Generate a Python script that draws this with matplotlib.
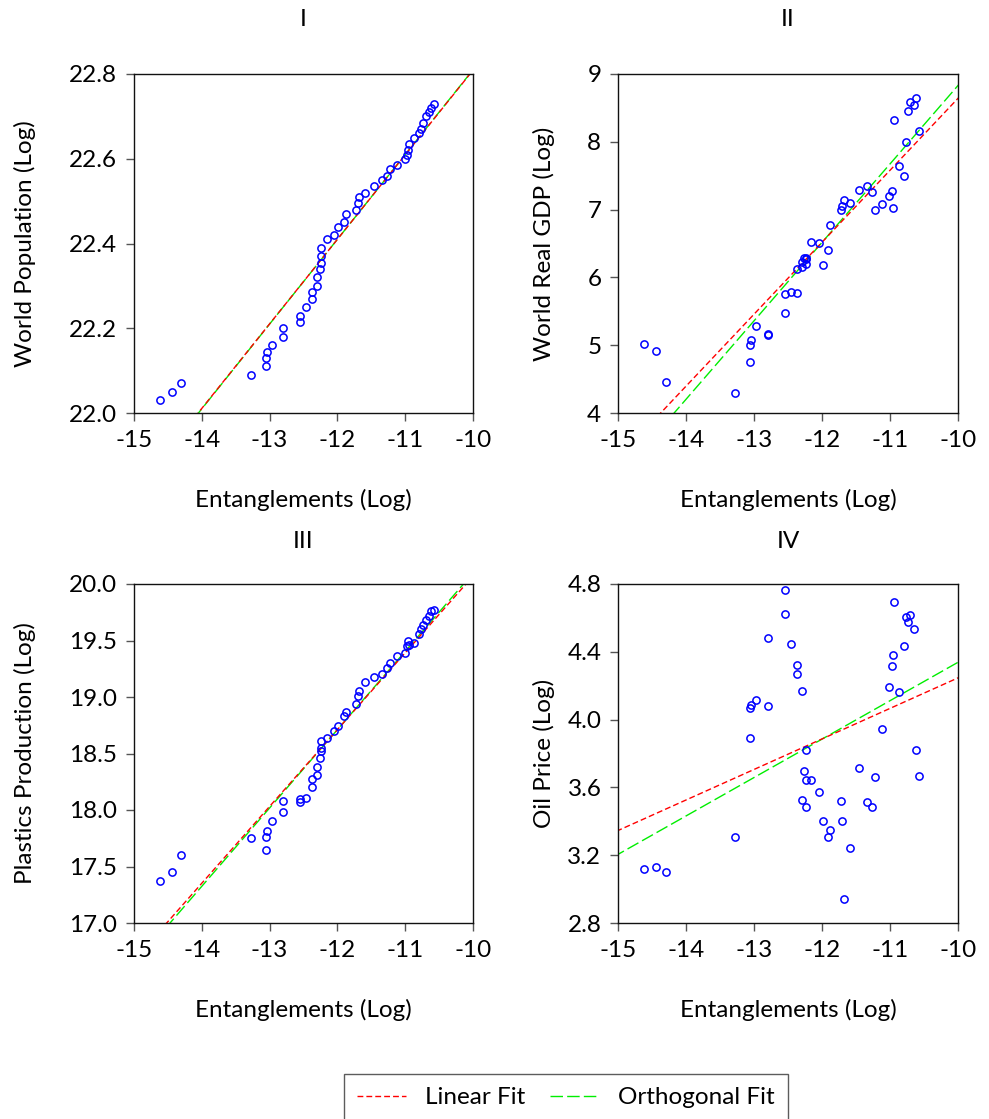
import numpy as np
import matplotlib
matplotlib.use("Agg")
import matplotlib.pyplot as plt
from matplotlib.lines import Line2D

plt.rcParams['font.family'] = ['Lato', 'DejaVu Sans']

# Shared x values: Entanglements (Log), in time order
entanglements = [-14.62, -14.44, -14.30, -13.28, -13.06, -13.06, -13.04, -12.97,
                 -12.80, -12.80, -12.55, -12.55, -12.46, -12.37, -12.37, -12.30,
                 -12.30, -12.26, -12.24, -12.24, -12.24, -12.16, -12.05, -11.99,
                 -11.91, -11.88, -11.72, -11.70, -11.68, -11.59, -11.46, -11.34,
                 -11.27, -11.22, -11.12, -11.01, -10.97, -10.96, -10.94, -10.87,
                 -10.79, -10.76, -10.74, -10.70, -10.65, -10.62, -10.57]

world_population = [22.03, 22.05, 22.07, 22.09, 22.11, 22.13, 22.145, 22.16,
                    22.18, 22.20, 22.215, 22.23, 22.25, 22.27, 22.285, 22.30,
                    22.32, 22.34, 22.355, 22.37, 22.39, 22.41, 22.42, 22.44,
                    22.45, 22.47, 22.48, 22.495, 22.51, 22.52, 22.535, 22.55,
                    22.56, 22.575, 22.585, 22.60, 22.61, 22.62, 22.635, 22.65,
                    22.66, 22.67, 22.685, 22.70, 22.71, 22.72, 22.73]

world_gdp = [5.02, 4.92, 4.45, 4.29, 4.75, 5.00, 5.08, 5.29,
             5.15, 5.17, 5.48, 5.75, 5.79, 5.77, 6.13, 6.16,
             6.23, 6.29, 6.29, 6.20, 6.27, 6.52, 6.51, 6.18,
             6.40, 6.78, 7.00, 7.06, 7.14, 7.10, 7.29, 7.35,
             7.26, 7.00, 7.08, 7.20, 7.28, 7.02, 8.32, 7.65,
             7.49, 7.99, 8.46, 8.58, 8.55, 8.65, 8.16]

plastics = [17.375, 17.455, 17.60, 17.75, 17.645, 17.765, 17.81, 17.90,
            17.98, 18.08, 18.07, 18.10, 18.11, 18.20, 18.27, 18.31,
            18.38, 18.46, 18.52, 18.55, 18.61, 18.64, 18.70, 18.74,
            18.83, 18.87, 18.94, 19.01, 19.05, 19.13, 19.18, 19.20,
            19.26, 19.30, 19.36, 19.39, 19.45, 19.50, 19.46, 19.48,
            19.56, 19.60, 19.64, 19.68, 19.72, 19.76, 19.77]

oil_price = [3.117, 3.133, 3.103, 3.31, 4.068, 3.89, 4.085, 4.117,
             4.082, 4.48, 4.623, 4.765, 4.444, 4.324, 4.268, 4.168,
             3.527, 3.698, 3.82, 3.642, 3.483, 3.646, 3.57, 3.40,
             3.306, 3.347, 3.517, 3.40, 2.94, 3.243, 3.716, 3.515,
             3.487, 3.66, 3.942, 4.192, 4.314, 4.38, 4.694, 4.162,
             4.434, 4.605, 4.578, 4.617, 4.534, 3.82, 3.666]

titles = ["I", "II", "III", "IV"]
ylabels = ["World Population (Log)", "World Real GDP (Log)",
           "Plastics Production (Log)", "Oil Price (Log)"]
xlabel = "Entanglements (Log)"
x_ticks = [-15, -14, -13, -12, -11, -10]
y_ticks = [[22.0, 22.2, 22.4, 22.6, 22.8],
           [4, 5, 6, 7, 8, 9],
           [17.0, 17.5, 18.0, 18.5, 19.0, 19.5, 20.0],
           [2.8, 3.2, 3.6, 4.0, 4.4, 4.8]]
y_fmt = ["{:.1f}", "{:.0f}", "{:.1f}", "{:.1f}"]
legend_labels = ["Linear Fit", "Orthogonal Fit"]

series = [world_population, world_gdp, plastics, oil_price]

W, H = 989, 1119
fig = plt.figure(figsize=(W / 100, H / 100), dpi=100)

# axes boxes in pixels: left, top, right, bottom
boxes = [(134, 74, 473, 413), (618, 74, 958, 413),
         (134, 584, 473, 923), (618, 584, 958, 923)]
title_y = [20, 20, 541, 541]
ylabel_x = [25, 544, 25, 544]
xlabel_y = [500, 500, 1010, 1010]

FS = 17.5
red_dash = (0, (4.2, 2.2))
green_dash = (0, (9.0, 3.0))


def fits(x, y):
    x = np.asarray(x, float)
    y = np.asarray(y, float)
    mx, my = x.mean(), y.mean()
    sxx = ((x - mx) ** 2).mean()
    syy = ((y - my) ** 2).mean()
    sxy = ((x - mx) * (y - my)).mean()
    b_ols = sxy / sxx
    b_orth = (syy - sxx + np.sqrt((syy - sxx) ** 2 + 4 * sxy ** 2)) / (2 * sxy)
    return (my - b_ols * mx, b_ols), (my - b_orth * mx, b_orth)


for i in range(4):
    l, t, r, b = boxes[i]
    ax = fig.add_axes([l / W, 1 - b / H, (r - l) / W, (b - t) / H])
    x = np.asarray(entanglements)
    y = np.asarray(series[i])
    (a1, b1), (a2, b2) = fits(x, y)
    xx = np.array([-15.5, -9.5])
    ax.plot(xx, a2 + b2 * xx, color='#00ee00', lw=1.0, linestyle=green_dash)
    ax.plot(xx, a1 + b1 * xx, color='#ff0000', lw=1.0, linestyle=red_dash)
    ax.plot(x, y, linestyle='none', marker='o', markersize=5.2,
            markerfacecolor='none', markeredgecolor='#0000ff', markeredgewidth=1.1)
    ax.set_xlim(-15, -10)
    ax.set_ylim(y_ticks[i][0], y_ticks[i][-1])
    ax.set_xticks(x_ticks)
    ax.set_xticklabels([str(v) for v in x_ticks])
    ax.set_yticks(y_ticks[i])
    ax.set_yticklabels([y_fmt[i].format(v) for v in y_ticks[i]])
    ax.tick_params(direction='out', length=6, width=1, color='#555555',
                   labelsize=FS, pad=6)
    for s in ax.spines.values():
        s.set_linewidth(1.0)
        s.set_color('#111111')
    ax.set_xlabel(xlabel, fontsize=FS)
    ax.set_ylabel(ylabels[i], fontsize=FS)
    ax.xaxis.label.set_va('center')
    ax.yaxis.label.set_va('center')
    ax.xaxis.set_label_coords(0.5, (b - xlabel_y[i]) / (b - t))
    ax.yaxis.set_label_coords((ylabel_x[i] - l) / (r - l), 0.5)
    ax.text(0.5, (b - title_y[i]) / (b - t), titles[i], transform=ax.transAxes,
            ha='center', va='center', fontsize=FS)

handles = [Line2D([], [], color='#ff0000', lw=1.0, linestyle=red_dash),
           Line2D([], [], color='#00ee00', lw=1.0, linestyle=green_dash)]
leg = fig.legend(handles, legend_labels, loc='upper center',
                 bbox_to_anchor=(566 / W, 1 - 1074 / H), ncol=2, fontsize=FS,
                 frameon=True, fancybox=False, edgecolor='#333333',
                 borderpad=0.55, handlelength=2.0, handletextpad=0.8,
                 columnspacing=1.0, borderaxespad=0)
leg.get_frame().set_linewidth(1.0)

fig.savefig("out.png", dpi=100)
